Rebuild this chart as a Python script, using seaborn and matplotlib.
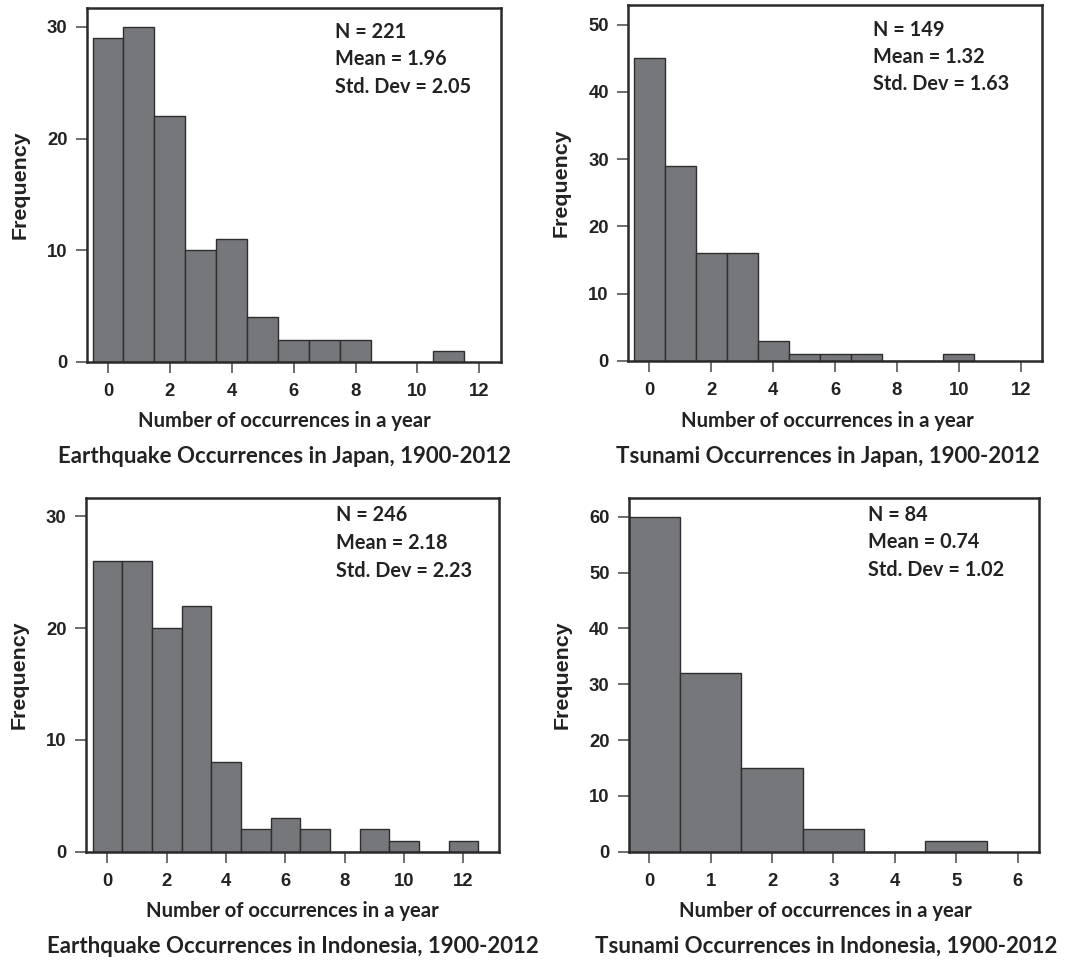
import numpy as np
import matplotlib
matplotlib.use("Agg")
import matplotlib.pyplot as plt
import seaborn as sns

# --- data (frequency of years per occurrence count) ---
eq_japan_counts = [29, 30, 22, 10, 11, 4, 2, 2, 2, 0, 0, 1]
ts_japan_counts = [45, 29, 16, 16, 3, 1, 1, 1, 0, 0, 1]
eq_indo_counts = [26, 26, 20, 22, 8, 2, 3, 2, 0, 2, 1, 0, 1]
ts_indo_counts = [60, 32, 15, 4, 0, 2]

titles = [
    "Earthquake Occurrences in Japan, 1900-2012",
    "Tsunami Occurrences in Japan, 1900-2012",
    "Earthquake Occurrences in Indonesia, 1900-2012",
    "Tsunami Occurrences in Indonesia, 1900-2012",
]
stats_n = [221, 149, 246, 84]
stats_mean = ["1.96", "1.32", "2.18", "0.74"]
stats_sd = ["2.05", "1.63", "2.23", "1.02"]

x_ticks = [list(range(0, 13, 2)), list(range(0, 13, 2)), list(range(0, 13, 2)), list(range(0, 7))]
y_ticks = [[0, 10, 20, 30], [0, 10, 20, 30, 40, 50], [0, 10, 20, 30], [0, 10, 20, 30, 40, 50, 60]]

sns.set_theme(style="white")
plt.rcParams["font.family"] = ["Liberation Sans", "DejaVu Sans"]

BAR = "#76777b"
EDGE = "#2e2e2e"
SPINE = "#2a2a2a"
CAL = ["Lato", "DejaVu Sans"]

fig = plt.figure(figsize=(10.83, 9.66), dpi=100)

# axes boxes in figure fractions [left, bottom, width, height]
boxes = [
    [0.0803, 0.6253, 0.3823, 0.3664],
    [0.5801, 0.6263, 0.3820, 0.3685],
    [0.0794, 0.1183, 0.3813, 0.3659],
    [0.5808, 0.1183, 0.3786, 0.3659],
]
xlims = [(-0.68, 12.70), (-0.68, 12.68), (-0.72, 13.2), (-0.33, 6.35)]
ylims = [31.7, 52.9, 31.6, 63.3]
stat_x = [0.599, 0.591, 0.605, 0.582]
stat_y = [(0.932, 0.856, 0.777), (0.930, 0.853, 0.778), (0.953, 0.873, 0.795), (0.953, 0.875, 0.797)]
title_x = [0.476, 0.482, 0.50, 0.48]

all_counts = [eq_japan_counts, ts_japan_counts, eq_indo_counts, ts_indo_counts]

for i, counts in enumerate(all_counts):
    ax = fig.add_axes(boxes[i])
    sns.histplot(
        x=np.arange(len(counts)),
        weights=counts,
        discrete=True,
        color=BAR,
        edgecolor=EDGE,
        linewidth=1.0,
        alpha=1.0,
        ax=ax,
    )
    ax.set_xlim(*xlims[i])
    ax.set_ylim(0, ylims[i])
    ax.set_xticks(x_ticks[i])
    ax.set_yticks(y_ticks[i])
    ax.set_xlabel("")
    ax.set_ylabel("")

    for s in ax.spines.values():
        s.set_visible(True)
        s.set_color(SPINE)
        s.set_linewidth(1.8)
    ax.tick_params(axis="both", direction="out", length=8, width=1.2, color="#555555",
                   labelsize=13.3, labelcolor="#222222")
    ax.tick_params(axis="x", pad=7)
    ax.tick_params(axis="y", pad=6)
    ax.xaxis.set_ticks_position("bottom")
    ax.yaxis.set_ticks_position("left")
    for lab in ax.get_xticklabels() + ax.get_yticklabels():
        lab.set_fontweight("bold")

    ax.text(-0.162, 0.5, "Frequency", transform=ax.transAxes, rotation=90,
            ha="center", va="center", fontsize=15.4, fontweight="bold", color="#222222")

    sx = stat_x[i]
    sy = stat_y[i]
    stat_lines = [f"N = {stats_n[i]}", f"Mean = {stats_mean[i]}", f"Std. Dev = {stats_sd[i]}"]
    for line, yy in zip(stat_lines, sy):
        ax.text(sx, yy, line, transform=ax.transAxes, ha="left", va="center",
                fontsize=14.3, fontweight="bold", family=CAL, color="#222222")

    ax.text(title_x[i], -0.168, "Number of occurrences in a year", transform=ax.transAxes,
            ha="center", va="center", fontsize=14.6, fontweight="bold", family=CAL, color="#222222")
    ax.text(title_x[i], -0.268, titles[i], transform=ax.transAxes,
            ha="center", va="center", fontsize=16, fontweight="bold", family=CAL, color="#222222")

fig.savefig("out.png", dpi=100, facecolor="white")
